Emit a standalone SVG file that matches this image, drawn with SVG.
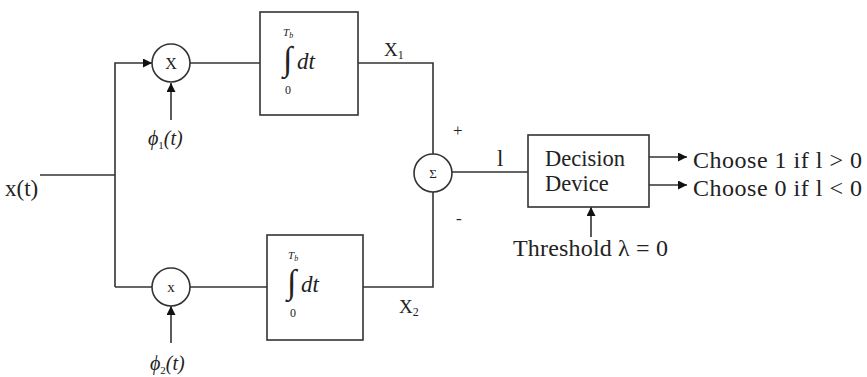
<svg xmlns="http://www.w3.org/2000/svg" width="867" height="377" viewBox="0 0 867 377">
<defs>
<style>
.ln{stroke:#333;stroke-width:1.6;fill:none}
.bx{stroke:#333;stroke-width:1.6;fill:#fff}
.t{font-family:"Liberation Serif","Times New Roman",serif;fill:#222}
.it{font-style:italic}
</style>
<marker id="ah" viewBox="0 0 10 10" refX="10" refY="5" markerWidth="9" markerHeight="9" markerUnits="userSpaceOnUse" orient="auto">
<path d="M0,0 L10,5 L0,10 z" fill="#111"/>
</marker>
</defs>
<rect width="867" height="377" fill="#fff"/>
<g id="connectors">
<path class="ln" d="M40,175 H115"/>
<path class="ln" d="M115,287 V63 H152" marker-end="url(#ah)"/>
<path class="ln" d="M115,287 H152"/>
<path class="ln" d="M171,120 V83" marker-end="url(#ah)"/>
<path class="ln" d="M171,343 V306" marker-end="url(#ah)"/>
<path class="ln" d="M190,63 H260"/>
<path class="ln" d="M190,287 H267"/>
<path class="ln" d="M358,63 H433 V154"/>
<path class="ln" d="M363,287 H433 V192"/>
<path class="ln" d="M452,172 H528"/>
<path class="ln" d="M649,157 H687" marker-end="url(#ah)"/>
<path class="ln" d="M649,185 H687" marker-end="url(#ah)"/>
<path class="ln" d="M591,237 V207" marker-end="url(#ah)"/>
</g>
<g id="input">
<text class="t" x="5" y="196" font-size="23">x(t)</text>
</g>
<g id="mult1">
<circle class="bx" cx="171" cy="63" r="19"/>
<text class="t" x="171" y="69" font-size="16" text-anchor="middle">X</text>
</g>
<g id="phi1">
<text class="t it" x="148" y="145" font-size="20">ϕ<tspan font-size="11" dy="4" font-style="normal">1</tspan><tspan dy="-4">(t)</tspan></text>
</g>
<g id="mult2">
<circle class="bx" cx="171" cy="287" r="19"/>
<text class="t" x="171" y="292" font-size="15" text-anchor="middle">x</text>
</g>
<g id="phi2">
<text class="t it" x="150" y="370" font-size="20">ϕ<tspan font-size="11" dy="4" font-style="normal">2</tspan><tspan dy="-4">(t)</tspan></text>
</g>
<g id="int1">
<rect class="bx" x="260" y="12" width="98" height="103"/>
<text class="t" x="283" y="70" font-size="34">∫</text>
<text class="t it" x="283" y="36" font-size="11">T<tspan font-size="8" dy="2">b</tspan></text>
<text class="t" x="285" y="94" font-size="12">0</text>
<text class="t it" x="297" y="69" font-size="23">dt</text>
</g>
<g id="int2">
<rect class="bx" x="267" y="235" width="96" height="105"/>
<text class="t" x="287" y="293" font-size="34">∫</text>
<text class="t it" x="288" y="259" font-size="11">T<tspan font-size="8" dy="2">b</tspan></text>
<text class="t" x="290" y="317" font-size="12">0</text>
<text class="t it" x="301" y="292" font-size="23">dt</text>
</g>
<g id="labels">
<text class="t" x="384" y="56" font-size="19">X<tspan font-size="12" dy="3">1</tspan></text>
<text class="t" x="399" y="313" font-size="19">X<tspan font-size="12" dy="3">2</tspan></text>
<text class="t" x="453" y="136" font-size="17">+</text>
<text class="t" x="456" y="224" font-size="17">-</text>
<text class="t" x="497" y="166" font-size="23">l</text>
</g>
<g id="sum">
<circle class="bx" cx="433" cy="173" r="19"/>
<text class="t" x="433" y="178" font-size="13" text-anchor="middle">Σ</text>
</g>
<g id="decision">
<rect class="bx" x="528" y="135" width="121" height="72"/>
<text class="t" x="545" y="166" font-size="22.5" textLength="80" lengthAdjust="spacing">Decision</text>
<text class="t" x="545" y="191" font-size="22.5">Device</text>
</g>
<g id="outputs">
<text class="t" x="693" y="168" font-size="24" textLength="169" lengthAdjust="spacing">Choose 1 if l &gt; 0</text>
<text class="t" x="693" y="196" font-size="24" textLength="169" lengthAdjust="spacing">Choose 0 if l &lt; 0</text>
<text class="t" x="513" y="256" font-size="24" textLength="155" lengthAdjust="spacing">Threshold λ = 0</text>
</g>
</svg>
